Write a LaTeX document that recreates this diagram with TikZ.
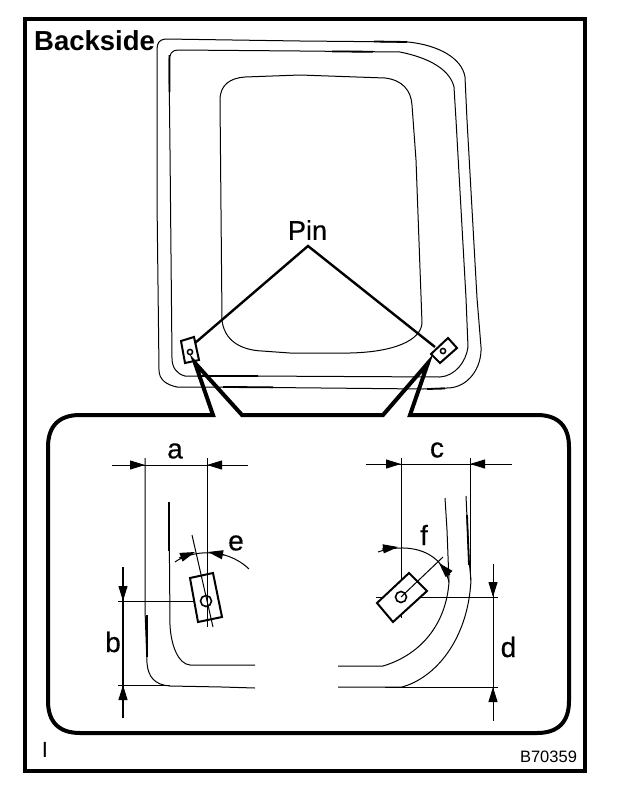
\documentclass[tikz,border=0pt]{standalone}
\usepackage{fontspec}
\setmainfont{Liberation Sans}
\newfontfamily\labfont[FakeBold=0.4]{Liberation Sans}
\usetikzlibrary{arrows.meta}
\tikzset{
  thinline/.style={line width=1pt,line join=round},
  heavy/.style={line width=1.8pt},
  frameline/.style={line width=4pt,line join=miter,miter limit=30},
  leader/.style={line width=2.4pt},
  part/.style={line width=2pt,fill=white},
  dimline/.style={line width=1pt},
  dimhead/.style={line width=1pt,-{Triangle[length=15pt,width=9pt]}},
  lab/.style={inner sep=0pt,font=\labfont\fontsize{28}{28}\selectfont},
}
\begin{document}
\begin{tikzpicture}[x=1pt,y=-1pt]
\useasboundingbox[fill=white] (0,0) rectangle (624,798);
% frame
\draw[frameline] (25,19) rectangle (585,771);
\node[inner sep=0pt,anchor=west,font=\bfseries\fontsize{27.5}{27.5}\selectfont] (title) at (34,41) {Backside};
% door outlines
\draw[thinline] (157,50) .. controls (157,43) and (159,40) .. (165,39) -- (300,41) -- (408,42)
  .. controls (438,45) and (462,58) .. (465,77) -- (467,120) -- (477,298) -- (481,347)
  .. controls (482,368) and (468,388) .. (447,388) -- (423,389) -- (220,387) -- (177,387)
  .. controls (167,385) and (159,380) .. (159,370) -- (157,200) -- cycle;
\draw[thinline] (169,62) .. controls (169,54) and (172,50) .. (178,50) -- (300,51) -- (400,52)
  .. controls (430,58) and (450,70) .. (454,87) -- (456,120) -- (466,298) -- (468,347)
  .. controls (466,362) and (455,376) .. (440,377) -- (250,376) -- (185,376)
  .. controls (177,374) and (172,368) .. (172,358) -- (170,150) -- cycle;
\draw[thinline] (220,100) .. controls (220,85) and (230,78) .. (245,77) -- (300,75) -- (385,78)
  .. controls (402,80) and (411,90) .. (412,105) -- (416,160) -- (422,323)
  .. controls (421,340) and (395,352) .. (350,353) -- (290,353) -- (262,351)
  .. controls (240,350) and (224,340) .. (222,320) -- cycle;
\draw[heavy] (374,41.5) -- (407,42) (332,51.5) -- (373,51.7) (169.5,55) -- (169.5,92)
  (223,387) -- (273,387.3) (427,389) -- (445,388.5) (198,376) -- (258,376);
% leader lines
\coordinate (pinapex) at (308,246);
\draw[leader,line join=miter] (195,343) -- (pinapex) -- (435,347);
\node[lab,font=\labfont\fontsize{27}{27}\selectfont] (pin) at (307.5,230) {Pin};
% clips on door
\draw[part] (181,341) -- (194,337) -- (199,360) -- (185,363) -- cycle;
\draw[line width=1.5pt] (190,352) circle (2.6);
\draw[part] (431,354) -- (448,338) -- (457,348) -- (440,363) -- cycle;
\draw[line width=1.5pt] (443,351) circle (2.6);
% callout
\draw[frameline] (213,415) -- (195,363) -- (242,415) -- (383,415) -- (428,363) -- (410,415)
  -- (537,415) .. controls (558,415) and (569,426) .. (569,447) -- (569,701)
  .. controls (569,722) and (558,733) .. (537,733) -- (80,733)
  .. controls (59,733) and (48,722) .. (48,701) -- (48,447)
  .. controls (48,426) and (59,415) .. (80,415) -- cycle;
% left detail
\draw[thinline] (145,458) -- (145,610) -- (147,663) .. controls (148,677) and (155,685) .. (170,686) -- (222,687) -- (255,688);
\draw[heavy] (147,615) -- (147,657);
\draw[thinline] (169,502) -- (170,625) .. controls (171,645) and (178,664) .. (190,665) -- (255,665);
\draw[heavy] (169,502) -- (169,551);
\draw[dimline] (207,458) -- (207,627);
\draw[dimline] (118,601) -- (220,601);
\draw[dimline] (118,685) -- (170,685);
\draw[dimline] (112,465) -- (248,465);
\coordinate (aL) at (145,465); \coordinate (aR) at (207,465);
\draw[dimhead] (128,465) -- (aL);
\draw[dimhead] (224,465) -- (aR);
\node[lab] (la) at (175,451) {a};
\draw[line width=2pt] (123,567) -- (123,718);
\draw[dimhead] (123,585) -- (123,601);
\draw[dimhead] (123,702) -- (123,685);
\node[lab] (lb) at (113,642) {b};
\draw[part] (190,578) -- (213,573) -- (222,617) -- (198,622) -- cycle;
\draw[dimline] (192,535) -- (213,627);
\draw[dimline] (207,573) -- (207,627);
\draw[line width=1.6pt] (206,601) circle (5.5);
\draw[thinline] (175,562) .. controls (190,551) and (225,546) .. (249,569);
\draw[dimhead] (179,558) -- (195,552);
\draw[dimhead] (224,555) -- (208,552);
\node[lab] (le) at (236,543) {e};
% right detail
\draw[dimline] (401,458) -- (401,618);
\draw[dimline] (470.5,458) -- (470.5,580);
\draw[thinline] (445,498) -- (447,530) -- (449,582) .. controls (446,625) and (420,655) .. (383,666) -- (338,666);
\draw[thinline] (466,496) -- (469,560) -- (471,580) .. controls (468,640) and (435,678) .. (402,687) -- (380,687) -- (338,687);
\draw[heavy] (467,515) -- (469,565);
\draw[dimline] (376,597) -- (498,597);
\draw[dimline] (385,687) -- (498,687);
\draw[dimline] (366,464) -- (512,464);
\draw[dimhead] (384,464) -- (401,464);
\draw[dimhead] (487,464) -- (470,464);
\node[lab] (lc) at (437,450) {c};
\draw[dimline] (493,564) -- (493,721);
\draw[dimhead] (493,581) -- (493,597);
\draw[dimhead] (493,704) -- (493,687);
\node[lab] (ld) at (508.5,647) {d};
\draw[part] (377,603) -- (409,573) -- (427,591) -- (393,622) -- cycle;
\draw[dimline] (401,597) -- (443,557);
\draw[line width=1.6pt] (401,597) circle (5.5);
\draw[thinline] (378,552) .. controls (400,544) and (440,545) .. (449,582);
\draw[dimhead] (382,549) -- (398,547);
\draw[dimhead] (450,575) -- (439,563);
\node[lab] (lf) at (424,535) {f};
% foot
\node[inner sep=0pt,font=\fontsize{22}{22}\selectfont] (mark) at (45,750) {I};
\node[inner sep=0pt,font=\fontsize{16.5}{16.5}\selectfont] (code) at (548.5,757) {B70359};
\end{tikzpicture}
\end{document}
